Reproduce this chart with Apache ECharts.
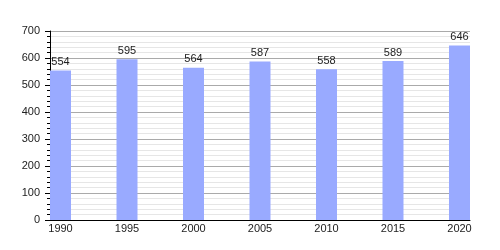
<!DOCTYPE html>
<html><head><meta charset="utf-8">
<script src="https://cdn.jsdelivr.net/npm/echarts@6/dist/echarts.min.js"></script>
<style>html,body{margin:0;padding:0;background:#fff}#c{width:500px;height:250px}</style>
</head><body><div id="c"></div>
<script>
var years = [1990, 1995, 2000, 2005, 2010, 2015, 2020];
var population = [554, 595, 564, 587, 558, 589, 646];
var yTicks = [0, 100, 200, 300, 400, 500, 600, 700];

var chart = echarts.init(document.getElementById('c'), null, {renderer: 'canvas'});
chart.setOption({
  animation: false,
  backgroundColor: '#fff',
  textStyle: {fontFamily: 'Liberation Sans, Arial, sans-serif'},
  grid: {left: 50, right: 30, top: 31, bottom: 30},
  xAxis: {
    type: 'value', min: 1989.21, max: 2020.79,
    axisLine: {show: true, onZero: false, lineStyle: {color: '#000', width: 1}},
    axisTick: {show: false},
    splitLine: {show: false},
    axisLabel: {customValues: years, color: '#222', fontSize: 11, margin: 3, formatter: function(v){return String(v);}}
  },
  yAxis: {
    type: 'value', min: 0, max: 700, interval: 100,
    axisLine: {show: true, lineStyle: {color: '#000', width: 1}},
    axisTick: {show: true, length: 5, lineStyle: {color: '#000'}},
    minorTick: {show: true, splitNumber: 5, length: 3, lineStyle: {color: '#000'}},
    splitLine: {show: true, lineStyle: {color: '#aaa', width: 1}},
    minorSplitLine: {show: true, lineStyle: {color: '#e6e6e6', width: 1}},
    axisLabel: {color: '#222', fontSize: 11, margin: 10}
  },
  series: [{
    type: 'bar',
    data: years.map(function(y, i){ return [y, population[i]]; }),
    barWidth: 21,
    clip: false,
    itemStyle: {color: '#99aaff'},
    label: {show: true, position: 'top', distance: 3, color: '#222', fontSize: 11}
  }]
});
</script></body></html>
